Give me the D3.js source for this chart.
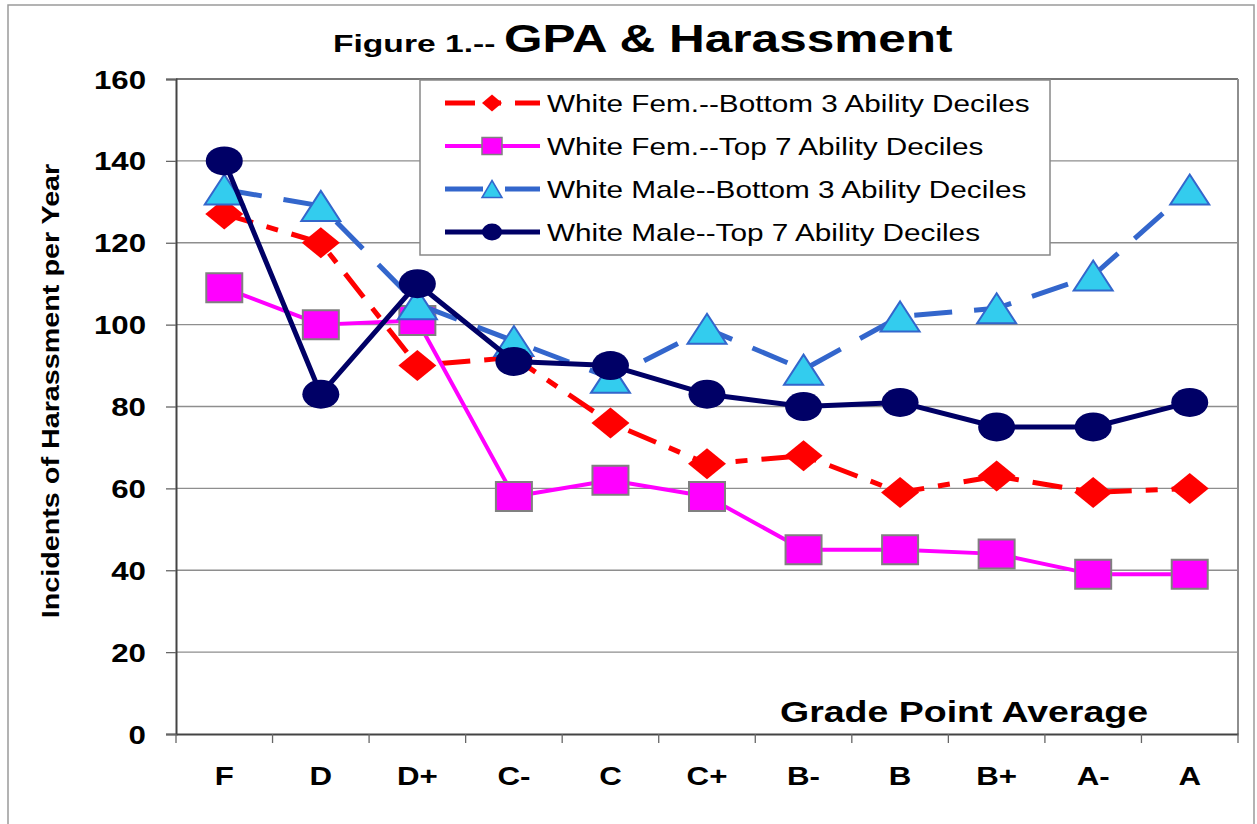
<!DOCTYPE html>
<html lang="en">
<head>
  <meta charset="UTF-8">
  <script src="https://d3js.org/d3.v7.min.js"></script>
  <title>GPA & Harassment</title>
  <style>
    body { margin: 0; background: #fff; }
    text { font-family: "Liberation Sans", Arial, sans-serif; fill: #000; }
  </style>
</head>
<body>
  <div id="wrapper"></div>
  <script>
    /* Data */
    const grades = ["F", "D", "D+", "C-", "C", "C+", "B-", "B", "B+", "A-", "A"]
    const yTicks = [0, 20, 40, 60, 80, 100, 120, 140, 160]
    const femBottom3 = [127, 120, 90, 92, 76, 66, 68, 59, 63, 59, 60]
    const femTop7 = [109, 100, 101, 58, 62, 58, 45, 45, 44, 39, 39]
    const maleBottom3 = [133, 129, 105, 96, 87, 99, 89, 102, 104, 112, 133]
    const maleTop7 = [140, 83, 110, 91, 90, 83, 80, 81, 75, 75, 81]
    const seriesNames = [
      "White Fem.--Bottom 3 Ability Deciles",
      "White Fem.--Top 7 Ability Deciles",
      "White Male--Bottom 3 Ability Deciles",
      "White Male--Top 7 Ability Deciles"
    ]

    const series = [
      { name: seriesNames[0], values: femBottom3, line: "#ff0000", dash: "30,14,12,14", width: 5, marker: "diamond", fill: "#ff0000", stroke: "none" },
      { name: seriesNames[1], values: femTop7, line: "#ff00ff", dash: null, width: 4, marker: "square", fill: "#ff00ff", stroke: "#808080" },
      { name: seriesNames[2], values: maleBottom3, line: "#3366cc", dash: "38,22", width: 5, marker: "triangle", fill: "#33ccee", stroke: "#3366cc" },
      { name: seriesNames[3], values: maleTop7, line: "#000066", dash: null, width: 5, marker: "circle", fill: "#000066", stroke: "none" }
    ]

    const dimensions = {
      width: 1257,
      height: 824,
      margin: { top: 79, right: 19, bottom: 90, left: 176 }
    }
    dimensions.boundedWidth = dimensions.width - dimensions.margin.left - dimensions.margin.right
    dimensions.boundedHeight = dimensions.height - dimensions.margin.top - dimensions.margin.bottom

    // text in the picture is drawn wider than plain Arial
    const stretchK = 1.25
    const stretch = (sel, k) => sel.each(function () {
      const t = d3.select(this)
      const x = +t.attr("x") || 0
      const y = +t.attr("y") || 0
      const extra = t.attr("data-rot") ? ` rotate(${t.attr("data-rot")})` : ""
      t.attr("x", 0).attr("y", 0)
        .attr("transform", `translate(${x},${y})${extra} scale(${k},1)`)
    })

    const markerPath = (type, w, h) => {
      if (type === "diamond") return `M0,${-h / 2}L${w / 2},0L0,${h / 2}L${-w / 2},0Z`
      if (type === "triangle") return `M0,${-h / 2}L${w / 2},${h / 2}L${-w / 2},${h / 2}Z`
      if (type === "square") return `M${-w / 2},${-h / 2}H${w / 2}V${h / 2}H${-w / 2}Z`
      // ellipse
      return `M${-w / 2},0A${w / 2},${h / 2} 0 1,0 ${w / 2},0A${w / 2},${h / 2} 0 1,0 ${-w / 2},0Z`
    }
    const markerSize = { diamond: [38, 31], square: [36, 29], triangle: [39, 30], circle: [37, 29] }

    const svg = d3.select("#wrapper")
      .append("svg")
      .attr("width", dimensions.width)
      .attr("height", dimensions.height)

    // outer frame
    svg.append("rect")
      .attr("x", 8).attr("y", 5)
      .attr("width", 1246).attr("height", 840)
      .attr("fill", "#fff")
      .attr("stroke", "#9a9a9a")
      .attr("stroke-width", 1.5)

    const bounds = svg.append("g")
      .attr("transform", `translate(${dimensions.margin.left},${dimensions.margin.top})`)

    /* Scales */
    const xScale = d3.scaleBand()
      .domain(grades)
      .range([0, dimensions.boundedWidth])
    const xCenter = g => xScale(g) + xScale.bandwidth() / 2

    const yScale = d3.scaleLinear()
      .domain([0, 160])
      .range([dimensions.boundedHeight, 0])

    /* Grid */
    bounds.append("g")
      .selectAll("line")
      .data(yTicks.filter(d => d > 0))
      .join("line")
      .attr("x1", 0)
      .attr("x2", dimensions.boundedWidth)
      .attr("y1", d => yScale(d))
      .attr("y2", d => yScale(d))
      .attr("stroke", d => d === 160 ? "#777" : "#8e8e8e")
      .attr("stroke-width", d => d === 160 ? 2 : 1.4)

    bounds.append("line")
      .attr("x1", dimensions.boundedWidth).attr("x2", dimensions.boundedWidth)
      .attr("y1", 0).attr("y2", dimensions.boundedHeight)
      .attr("stroke", "#8e8e8e")
      .attr("stroke-width", 2)

    /* Axes */
    const yAxis = bounds.append("g")
      .call(d3.axisLeft(yScale).tickValues(yTicks).tickSize(10).tickPadding(20))
    yAxis.select(".domain").attr("stroke", "#444").attr("stroke-width", 2)
    yAxis.selectAll(".tick line").attr("stroke", "#666").attr("stroke-width", 1.3)
    yAxis.selectAll("text")
      .style("font-size", "25px")
      .style("font-weight", "bold")
      .attr("fill", "#000")
      .attr("dy", "0.36em")
      .call(stretch, stretchK)

    const xAxis = bounds.append("g")
      .attr("transform", `translate(0,${dimensions.boundedHeight})`)
      .call(d3.axisBottom(xScale).tickSize(0).tickPadding(33))
    xAxis.select(".domain").attr("stroke", "#444").attr("stroke-width", 2)
    xAxis.selectAll("text")
      .style("font-size", "25px")
      .style("font-weight", "bold")
      .attr("fill", "#000")
      .call(stretch, stretchK)

    // tick marks sit between the grades
    xAxis.append("g")
      .selectAll("line")
      .data(grades.map(g => xScale(g)).concat([dimensions.boundedWidth]))
      .join("line")
      .attr("x1", d => d).attr("x2", d => d)
      .attr("y1", 0).attr("y2", 9)
      .attr("stroke", "#666")
      .attr("stroke-width", 1.3)

    /* Lines and markers */
    const lineGen = d3.line()
      .x((d, i) => xCenter(grades[i]))
      .y(d => yScale(d))

    series.forEach(s => {
      const g = bounds.append("g")
      g.append("path")
        .datum(s.values)
        .attr("d", lineGen)
        .attr("fill", "none")
        .attr("stroke", s.line)
        .attr("stroke-width", s.width)
        .attr("stroke-dasharray", s.dash)
        .attr("stroke-linejoin", "round")
      const [w, h] = markerSize[s.marker]
      g.selectAll(".marker")
        .data(s.values)
        .join("path")
        .attr("class", "marker")
        .attr("transform", (d, i) => `translate(${xCenter(grades[i])},${yScale(d)})`)
        .attr("d", markerPath(s.marker, w, h))
        .attr("fill", s.fill)
        .attr("stroke", s.stroke)
        .attr("stroke-width", 2)
    })

    /* Axis titles */
    svg.append("text")
      .attr("x", 964)
      .attr("y", 722)
      .attr("text-anchor", "middle")
      .style("font-size", "30px")
      .style("font-weight", "bold")
      .text("Grade Point Average")
      .call(stretch, stretchK)

    svg.append("text")
      .attr("x", 59)
      .attr("y", 391)
      .attr("data-rot", -90)
      .attr("text-anchor", "middle")
      .style("font-size", "23px")
      .style("font-weight", "bold")
      .text("Incidents of Harassment per Year")
      .call(stretch, stretchK)

    /* Title */
    svg.append("text")
      .attr("x", 333)
      .attr("y", 52)
      .style("font-size", "24px")
      .style("font-weight", "bold")
      .text("Figure 1.--")
      .call(stretch, 1.4)
    svg.append("text")
      .attr("x", 504)
      .attr("y", 52)
      .style("font-size", "39px")
      .style("font-weight", "bold")
      .text("GPA & Harassment")
      .call(stretch, 1.27)

    /* Legend */
    const legend = svg.append("g")
    legend.append("rect")
      .attr("x", 420).attr("y", 80)
      .attr("width", 630).attr("height", 175)
      .attr("fill", "#fff")
      .attr("stroke", "#888")
      .attr("stroke-width", 1.5)

    const legendRows = legend.selectAll(".row")
      .data(series)
      .join("g")
      .attr("class", "row")
      .attr("transform", (d, i) => `translate(0,${103 + i * 43})`)

    legendRows.append("line")
      .attr("x1", 445).attr("x2", 540)
      .attr("y1", 0).attr("y2", 0)
      .attr("stroke", d => d.line)
      .attr("stroke-width", d => d.width)
      .attr("stroke-dasharray", d => d.dash)

    legendRows.append("path")
      .attr("transform", "translate(492,0)")
      .attr("d", d => markerPath(d.marker, 20, 17))
      .attr("fill", d => d.fill)
      .attr("stroke", d => d.stroke)
      .attr("stroke-width", 1.5)

    legendRows.append("text")
      .attr("x", 547)
      .attr("y", 0)
      .attr("dy", "0.36em")
      .style("font-size", "24px")
      .text(d => d.name)
      .call(stretch, 1.24)
  </script>
</body>
</html>
